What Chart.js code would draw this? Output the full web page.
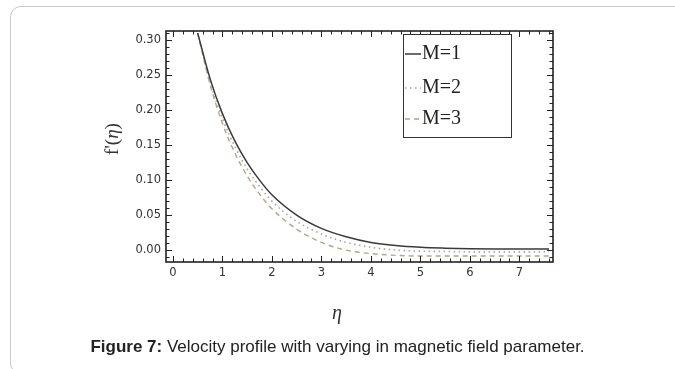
<!DOCTYPE html>
<html>
<head>
<meta charset="utf-8">
<script src="https://cdn.jsdelivr.net/npm/chart.js@4.4.1/dist/chart.umd.min.js"></script>
<style>
  html, body { margin: 0; padding: 0; background: #fff; }
  #wrap { position: relative; width: 675px; height: 369px; overflow: hidden; }
  #card { position: absolute; left: 10px; top: 6px; width: 720px; height: 368px; border: 1px solid #c8c8c8; border-radius: 11px; box-sizing: border-box; }
  canvas { position: absolute; left: 0; top: 0; }
  #caption { position: absolute; left: 0; width: 675px; top: 337px; text-align: center; font-family: "Liberation Sans", Arial, sans-serif; font-size: 17px; color: #222; }
</style>
</head>
<body>
<div id="wrap">
  <div id="card"></div>
  <canvas id="c" width="675" height="369"></canvas>
  <div id="caption"><b>Figure 7:</b> Velocity profile with varying in magnetic field parameter.</div>
</div>
<script>
// ---- data ----
const etaValues = [0.5, 0.75, 1, 1.25, 1.5, 1.75, 2, 2.5, 3, 3.5, 4, 4.5, 5, 5.5, 6, 6.5, 7, 7.6];
const seriesM1 = [0.310, 0.245, 0.195, 0.156, 0.125, 0.100, 0.079, 0.050, 0.031, 0.019, 0.011, 0.0065, 0.004, 0.0028, 0.0021, 0.0017, 0.0015, 0.0014];
const seriesM2 = [0.310, 0.240, 0.188, 0.148, 0.116, 0.091, 0.070, 0.041, 0.023, 0.011, 0.004, 0.000, -0.0015, -0.002, -0.0025, -0.0025, -0.0025, -0.0025];
const seriesM3 = [0.310, 0.237, 0.181, 0.139, 0.106, 0.080, 0.059, 0.030, 0.011, 0.000, -0.005, -0.0075, -0.0085, -0.0085, -0.0085, -0.0085, -0.0085, -0.0085];
const seriesLabels = ["M=1", "M=2", "M=3"];
const xTicks = [0, 1, 2, 3, 4, 5, 6, 7];
const yTicks = [0.00, 0.05, 0.10, 0.15, 0.20, 0.25, 0.30];
const xTitle = "η";
const yTitleMain = "f'(";
const yTitleVar = "η";
const yTitleEnd = ")";

const pts = arr => etaValues.map((x, i) => ({ x: x, y: arr[i] }));

const frameAndTicks = {
  id: 'frameAndTicks',
  afterDatasetsDraw(chart) {
    const { ctx, chartArea: a, scales } = chart;
    const xs = scales.x, ys = scales.y;
    ctx.save();
    ctx.strokeStyle = '#222';
    ctx.lineWidth = 1;
    ctx.beginPath();
    for (let i = 0; i <= 38; i++) {
      const v = i * 0.2;
      const px = Math.round(xs.getPixelForValue(v)) + 0.5;
      const major = i % 5 === 0;
      const len = major ? 6 : 3.5;
      ctx.moveTo(px, a.bottom); ctx.lineTo(px, a.bottom - len);
      ctx.moveTo(px, a.top); ctx.lineTo(px, a.top + len);
    }
    for (let i = -1; i <= 31; i++) {
      const v = i * 0.01;
      const py = Math.round(ys.getPixelForValue(v)) + 0.5;
      const major = ((i % 5) + 5) % 5 === 0;
      const len = major ? 6 : 3.5;
      ctx.moveTo(a.left, py); ctx.lineTo(a.left + len, py);
      ctx.moveTo(a.right, py); ctx.lineTo(a.right - len, py);
    }
    ctx.stroke();
    ctx.lineWidth = 1.6;
    ctx.strokeRect(a.left, a.top, a.right - a.left, a.bottom - a.top);

    // legend box
    const lx = 403, ly = 34, lw = 108, lh = 103;
    ctx.fillStyle = '#fff';
    ctx.fillRect(lx, ly, lw, lh);
    ctx.lineWidth = 1;
    ctx.strokeStyle = '#333';
    ctx.strokeRect(lx + 0.5, ly + 0.5, lw, lh);
    const rowsY = [53, 87, 118];
    chart.data.datasets.forEach((ds, i) => {
      const y = rowsY[i];
      ctx.save();
      ctx.strokeStyle = ds.borderColor;
      ctx.lineWidth = ds.borderWidth;
      ctx.setLineDash(ds.borderDash || []);
      ctx.beginPath();
      ctx.moveTo(lx + 2, y + 1); ctx.lineTo(lx + 18, y + 1);
      ctx.stroke();
      ctx.restore();
      ctx.fillStyle = '#222';
      ctx.font = '20px "Liberation Serif", "Times New Roman", serif';
      ctx.textBaseline = 'middle';
      ctx.textAlign = 'left';
      ctx.fillText(ds.label, lx + 19, y + 1);
    });

    // axis titles
    ctx.fillStyle = '#333';
    ctx.font = 'italic 20px "Liberation Serif", serif';
    ctx.textAlign = 'center';
    ctx.textBaseline = 'middle';
    ctx.fillText(xTitle, 337, 314);

    ctx.save();
    ctx.translate(113, 139);
    ctx.rotate(-Math.PI / 2);
    ctx.textBaseline = 'middle';
    ctx.textAlign = 'left';
    const f1 = '19px "Liberation Serif", serif';
    const f2 = 'italic 19px "Liberation Serif", serif';
    ctx.font = f1; const w1 = ctx.measureText(yTitleMain).width;
    ctx.font = f2; const w2 = ctx.measureText(yTitleVar).width;
    ctx.font = f1; const w3 = ctx.measureText(yTitleEnd).width;
    let x0 = -(w1 + w2 + w3) / 2;
    ctx.font = f1; ctx.fillText(yTitleMain, x0, 0);
    ctx.font = f2; ctx.fillText(yTitleVar, x0 + w1, 0);
    ctx.font = f1; ctx.fillText(yTitleEnd, x0 + w1 + w2, 0);
    ctx.restore();
    ctx.restore();
  }
};

new Chart(document.getElementById('c'), {
  type: 'line',
  data: {
    datasets: [
      { label: seriesLabels[0], data: pts(seriesM1), borderColor: '#3a3a3a', borderWidth: 1.5, pointRadius: 0, cubicInterpolationMode: 'monotone', fill: false },
      { label: seriesLabels[1], data: pts(seriesM2), borderColor: '#a7a59c', borderWidth: 1.6, borderDash: [1.5, 3.5], pointRadius: 0, cubicInterpolationMode: 'monotone', fill: false },
      { label: seriesLabels[2], data: pts(seriesM3), borderColor: '#b3a584', borderWidth: 1.4, borderDash: [5, 4], pointRadius: 0, cubicInterpolationMode: 'monotone', fill: false }
    ]
  },
  options: {
    responsive: false,
    animation: false,
    events: [],
    clip: true,
    layout: { padding: { left: 0, right: 122, top: 31, bottom: 0 } },
    plugins: { legend: { display: false }, tooltip: { enabled: false } },
    scales: {
      x: {
        type: 'linear', min: -0.14, max: 7.68,
        grid: { display: false, drawTicks: false },
        border: { display: false },
        afterFit(s) { s.height = 107; },
        afterBuildTicks(s) { s.ticks = xTicks.map(v => ({ value: v })); },
        ticks: { padding: 4, color: '#333', font: { family: '"DejaVu Sans", Verdana, sans-serif', size: 11.5 }, callback: v => String(v), maxRotation: 0, autoSkip: false }
      },
      y: {
        type: 'linear', min: -0.017, max: 0.313,
        grid: { display: false, drawTicks: false },
        border: { display: false },
        afterFit(s) { s.width = 166; },
        afterBuildTicks(s) { s.ticks = yTicks.map(v => ({ value: v })); },
        ticks: { padding: 5, color: '#333', font: { family: '"DejaVu Sans", Verdana, sans-serif', size: 11.5 }, callback: v => Number(v).toFixed(2), autoSkip: false }
      }
    }
  },
  plugins: [frameAndTicks]
});
</script>
</body>
</html>
